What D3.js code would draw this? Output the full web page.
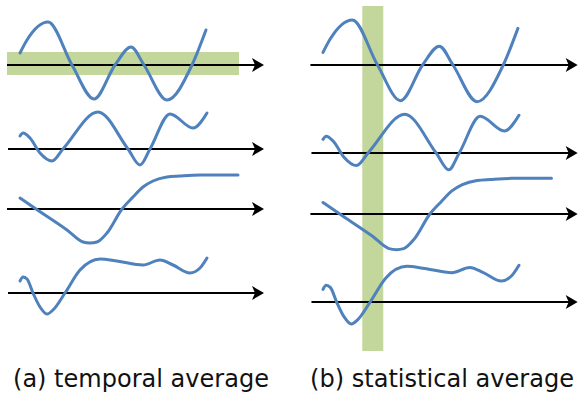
<!DOCTYPE html>
<html>
<head>
<meta charset="utf-8">
<script src="https://cdn.jsdelivr.net/npm/d3@7"></script>
<style>
  body { margin: 0; background: #fff; }
  svg { display: block; }
</style>
</head>
<body>
<script>
// captions under each panel
let captions = ['(a) temporal average', '(b) statistical average']

// signals, [time, value] with value 0 on the time axis
let wave1 = [[0, 12], [7, 25], [28, 43], [52, 0], [74, -34], [95, 0], [111, 18], [124, 0], [147, -35], [172, 0], [186, 35]]
let wave2 = [[0, 13], [3, 16], [10, 11], [20, -4], [32, -12], [43, 0], [78, 37], [108, 0], [120, -16], [130, 0], [150, 35], [173, 21], [187, 36]]
let wave3 = [[0, 11], [16, 0], [47, -21], [63, -33], [70, -34], [77, -33], [87, -24], [102, 0], [113, 12], [123, 22], [133, 28], [147, 32], [160, 33], [180, 34], [218, 34]]
let wave4 = [[0, 12], [3, 16], [7, 14], [13, 0], [20, -14], [27, -21], [33, -17], [45, 0], [60, 23], [80, 34], [97, 32], [123, 28], [140, 33], [153, 28], [170, 20], [180, 25], [187, 35]]
let waves = [wave1, wave2, wave3, wave4]

let width = 579, height = 395
let blue = '#4f81bd', green = '#c3d69b'

let panels = [
  { x0: 20, k: 1, rows: [65, 149, 209, 293], axisStart: -13, axisEnd: 244, caption: captions[0], tx: 13 },
  { x0: 323, k: 1.048, rows: [65, 153, 214, 302], axisStart: -12, axisEnd: 243, caption: captions[1], tx: 310 }
]

let svg = d3.select('body').append('svg')
  .attr('width', width)
  .attr('height', height)

let line = d3.line().curve(d3.curveMonotoneX)

let arrow = (g, x, y) => {
  g.append('line')
    .attr('x1', x[0]).attr('x2', x[1] - 8)
    .attr('y1', y).attr('y2', y)
    .attr('stroke', '#000')
    .attr('stroke-width', 2)
  g.append('path')
    .attr('d', `M${x[1]},${y}L${x[1] - 12},${y - 7}L${x[1] - 9},${y}L${x[1] - 12},${y + 7}Z`)
    .attr('fill', '#000')
}

panels.forEach((p, i) => {
  let x = d3.scaleLinear().domain([0, 100]).range([p.x0, p.x0 + 100 * p.k])
  let g = svg.append('g')

  // highlight band: one row over time, or one instant over all rows
  if (i == 0) {
    g.append('rect')
      .attr('x', x(p.axisStart)).attr('width', x(219) - x(p.axisStart))
      .attr('y', p.rows[0] - 13).attr('height', 23)
      .attr('fill', green)
  } else {
    g.append('rect')
      .attr('x', x(37.5)).attr('width', x(57.5) - x(37.5))
      .attr('y', 6).attr('height', 345)
      .attr('fill', green)
  }

  p.rows.forEach((r, j) => {
    let y = d3.scaleLinear().domain([-40, 40]).range([r + 40 * p.k, r - 40 * p.k])
    arrow(g, [x(p.axisStart + (j % 2 ? 1 : 0)), x(p.axisEnd)], r)
    g.append('path')
      .datum(waves[j])
      .attr('d', line.x(d => x(d[0])).y(d => y(d[1])))
      .attr('fill', 'none')
      .attr('stroke', blue)
      .attr('stroke-width', 3)
      .attr('stroke-linecap', 'round')
      .attr('stroke-linejoin', 'round')
  })

  svg.append('text')
    .attr('x', p.tx)
    .attr('y', 387)
    .attr('font-family', '"DejaVu Sans", sans-serif')
    .attr('font-size', 24)
    .attr('fill', '#111')
    .attr('textLength', i == 0 ? 256 : 264)
    .attr('lengthAdjust', 'spacingAndGlyphs')
    .text(p.caption)
})
</script>
</body>
</html>
